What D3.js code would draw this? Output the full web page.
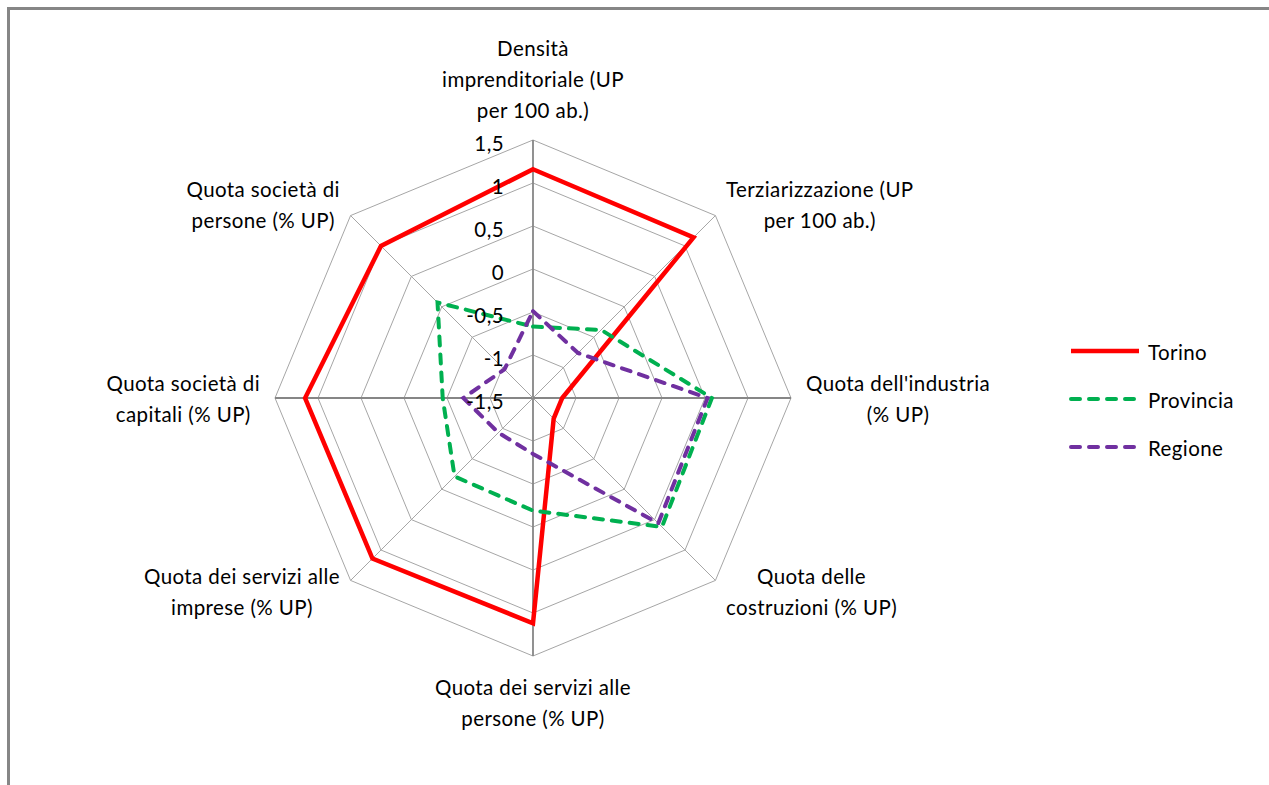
<!DOCTYPE html>
<html>
<head>
<meta charset="utf-8">
<script src="https://cdn.jsdelivr.net/npm/d3@7"></script>
<style>
  body { margin: 0; background: #fff; }
  svg { display: block; font-family: Lato, "Open Sans", sans-serif; }
  text { letter-spacing: 0.4px; }
</style>
</head>
<body>
<svg id="chart" width="1269" height="785"></svg>
<script>
// axes, clockwise from the top
const categories = [
  ['Densità', 'imprenditoriale (UP', 'per 100 ab.)'],
  ['Terziarizzazione (UP', 'per 100 ab.)'],
  ["Quota dell'industria", '(% UP)'],
  ['Quota delle', 'costruzioni (% UP)'],
  ['Quota dei servizi alle', 'persone (% UP)'],
  ['Quota dei servizi alle', 'imprese (% UP)'],
  ['Quota società di', 'capitali (% UP)'],
  ['Quota società di', 'persone (% UP)']
];

const torino    = [1.16, 1.14, -1.16, -1.16, 1.12, 1.14, 1.15, 1.00];
const provincia = [-0.67, -0.38, 0.58, 0.62, -0.19, -0.21, -0.45, 0.07];
const regione   = [-0.49, -0.76, 0.53, 0.56, -0.85, -0.93, -0.69, -1.03];

const seriesNames = ['Torino', 'Provincia', 'Regione'];
const tickValues = [1.5, 1, 0.5, 0, -0.5, -1, -1.5];
const tickLabels = ['1,5', '1', '0,5', '0', '-0,5', '-1', '-1,5'];

const svg = d3.select('#chart');
const cx = 533, cy = 398, R = 258;
const n = categories.length;
const fs = 20.5;
const r = d3.scaleLinear().domain([-1.5, 1.5]).range([0, R]);
const ang = i => i * 2 * Math.PI / n;
const pt = (i, rad) => [cx + rad * Math.sin(ang(i)), cy - rad * Math.cos(ang(i))];

// chart area frame (only top and left edges show)
svg.append('path')
  .attr('d', 'M8.5,790 L8.5,8.5 L1275,8.5')
  .attr('fill', 'none')
  .attr('stroke', '#868686')
  .attr('stroke-width', 3);

// rings
const grid = svg.append('g');
tickValues.filter(v => v > -1.5).forEach(v => {
  grid.append('polygon')
    .attr('points', d3.range(n).map(i => pt(i, r(v)).join(',')).join(' '))
    .attr('fill', 'none')
    .attr('stroke', '#a6a6a6')
    .attr('stroke-width', 1);
});

// spokes
d3.range(n).forEach(i => {
  const e = pt(i, R);
  const main = i % 2 == 0;
  grid.append('line')
    .attr('x1', cx).attr('y1', cy)
    .attr('x2', e[0]).attr('y2', e[1])
    .attr('stroke', main ? '#868686' : '#a6a6a6')
    .attr('stroke-width', main ? 1.8 : 1);
});

// series
const series = [
  { name: seriesNames[0], values: torino, color: '#ff0000', dash: null, width: 4.5 },
  { name: seriesNames[1], values: provincia, color: '#00b050', dash: '9,9', width: 4 },
  { name: seriesNames[2], values: regione, color: '#7030a0', dash: '9,9', width: 4 }
];

const radial = d3.lineRadial()
  .angle((d, i) => ang(i))
  .radius(d => r(d))
  .curve(d3.curveLinearClosed);

series.forEach(s => {
  svg.append('path')
    .datum(s.values)
    .attr('transform', `translate(${cx},${cy})`)
    .attr('d', radial)
    .attr('fill', 'none')
    .attr('stroke', s.color)
    .attr('stroke-width', s.width)
    .attr('stroke-linejoin', 'miter')
    .attr('stroke-linecap', s.dash ? 'round' : 'butt')
    .attr('stroke-dasharray', s.dash);
});

// category labels
const lineH = 31;
categories.forEach((lines, i) => {
  const p = pt(i, R + 15);
  const s = Math.sin(ang(i)), c = Math.cos(ang(i));
  const g = svg.append('g');
  const texts = lines.map(t => g.append('text')
    .attr('font-size', fs)
    .attr('fill', '#000')
    .attr('text-anchor', 'middle')
    .attr('dominant-baseline', 'central')
    .text(t));
  const w = d3.max(texts, t => t.node().getComputedTextLength());
  const h = lines.length * lineH;
  let bx = p[0], by = p[1];
  if (s > 0.1) bx = p[0] + w / 2;
  else if (s < -0.1) bx = p[0] - w / 2;
  if (c > 0.9) by = p[1] - h / 2;
  else if (c < -0.9) by = p[1] + h / 2;
  texts.forEach((t, k) => {
    t.attr('x', bx).attr('y', by - h / 2 + lineH * (k + 0.5));
  });
});

// value axis labels
tickValues.forEach((v, k) => {
  svg.append('text')
    .attr('x', cx - 29)
    .attr('y', cy - r(v) + 3)
    .attr('text-anchor', 'end')
    .attr('dominant-baseline', 'central')
    .attr('font-size', fs)
    .text(tickLabels[k]);
});

// legend
const leg = svg.append('g');
series.forEach((s, k) => {
  const y = 351 + k * 48;
  leg.append('line')
    .attr('x1', 1071).attr('x2', 1139)
    .attr('y1', y).attr('y2', y)
    .attr('stroke', s.color)
    .attr('stroke-width', s.width)
    .attr('stroke-linecap', s.dash ? 'round' : 'butt')
    .attr('stroke-dasharray', s.dash);
  leg.append('text')
    .attr('x', 1148).attr('y', y + 1)
    .attr('dominant-baseline', 'central')
    .attr('font-size', fs)
    .text(s.name);
});
</script>
</body>
</html>
